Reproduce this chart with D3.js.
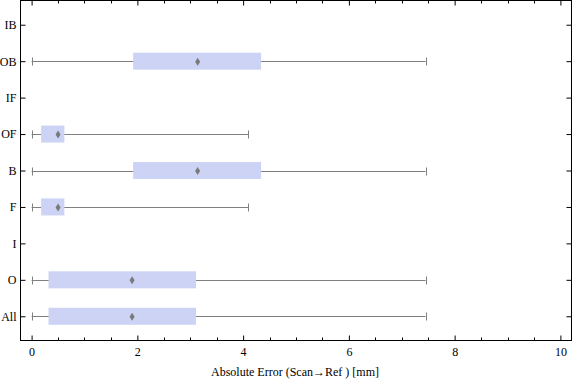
<!DOCTYPE html>
<html>
<head>
<meta charset="utf-8">
<script src="https://cdn.jsdelivr.net/npm/d3@7"></script>
<style>
  html, body { margin: 0; padding: 0; background: #fff; }
  svg { display: block; }
</style>
</head>
<body>
<script>
// ---- data ----
const categories   = ["IB", "OB", "IF", "OF", "B", "F", "I", "O", "All"];
const whiskerLow   = [null, 0,    null, 0,    0,    0,    null, 0,    0];
const boxLow       = [null, 1.92, null, 0.18, 1.92, 0.18, null, 0.32, 0.32];
const boxHigh      = [null, 4.34, null, 0.62, 4.34, 0.62, null, 3.11, 3.11];
const meanValues   = [null, 3.14, null, 0.50, 3.14, 0.50, null, 1.90, 1.90];
const whiskerHigh  = [null, 7.45, null, 4.10, 7.45, 4.10, null, 7.45, 7.45];
const xTickValues  = [0, 2, 4, 6, 8, 10];
const xLabel = "Absolute Error (Scan\u2192Ref ) [mm]";

const FONT = "'Liberation Serif', 'Times New Roman', Times, 'DejaVu Serif', serif";
const W = 576, H = 381;
const L = 20.5, R = 571.5, T = 0.5, B = 340.5;

const svg = d3.select("body").append("svg").attr("width", W).attr("height", H);

const x = d3.scaleLinear().domain([-0.21, 10.21]).range([L, R]);
const y = d3.scalePoint().domain(categories).range([T, B]).padding(0.665);

const rows = categories.map((c, i) => ({
  cat: c, wl: whiskerLow[i], q1: boxLow[i], q3: boxHigh[i], mean: meanValues[i], wh: whiskerHigh[i]
})).filter(d => d.q1 !== null);

const boxH = 17;
const whiskColor = "#808080";

const g = svg.append("g");
// whiskers
g.selectAll("line.wh").data(rows).join("line")
  .attr("x1", d => x(d.wl)).attr("x2", d => x(d.wh))
  .attr("y1", d => Math.round(y(d.cat)) + 0.5).attr("y2", d => Math.round(y(d.cat)) + 0.5)
  .attr("stroke", whiskColor).attr("stroke-width", 1);
// caps
["wl", "wh"].forEach(k => {
  g.selectAll("line.cap" + k).data(rows).join("line")
    .attr("x1", d => Math.round(x(d[k])) + 0.5).attr("x2", d => Math.round(x(d[k])) + 0.5)
    .attr("y1", d => Math.round(y(d.cat)) + 0.5 - 4).attr("y2", d => Math.round(y(d.cat)) + 0.5 + 4)
    .attr("stroke", whiskColor).attr("stroke-width", 1);
});
// boxes
g.selectAll("rect.box").data(rows).join("rect")
  .attr("x", d => x(d.q1)).attr("width", d => x(d.q3) - x(d.q1))
  .attr("y", d => y(d.cat) - boxH / 2).attr("height", boxH)
  .attr("fill", "#ccd3f4");
// mean diamonds
g.selectAll("path.mean").data(rows).join("path")
  .attr("d", d => {
    const cx = x(d.mean), cy = y(d.cat) + 0.5;
    return `M${cx},${cy - 4}L${cx + 2.5},${cy}L${cx},${cy + 4}L${cx - 2.5},${cy}Z`;
  })
  .attr("fill", "#7a7a7a");

// frame
svg.append("rect").attr("x", L).attr("y", T).attr("width", R - L).attr("height", B - T)
  .attr("fill", "none").attr("stroke", "#000").attr("stroke-width", 1);

// x ticks (bottom and top, inward)
const minorTicks = d3.range(0, 10.01, 0.5).filter(v => Math.abs(v % 2) > 1e-6);
const bottomAxis = d3.axisBottom(x).tickValues(xTickValues).tickSizeInner(-5).tickSizeOuter(0).tickPadding(7)
  .tickFormat(d3.format("d"));
const ax = svg.append("g").attr("transform", `translate(0,${B})`).call(bottomAxis);
ax.select(".domain").remove();
ax.selectAll("line").attr("stroke", "#000");
ax.selectAll("text").style("font-size", "12px").style("font-family", FONT).attr("fill", "#000");

svg.append("g").selectAll("line").data(minorTicks).join("line")
  .attr("x1", d => Math.round(x(d)) + 0.5).attr("x2", d => Math.round(x(d)) + 0.5)
  .attr("y1", B).attr("y2", B - 3).attr("stroke", "#000");

const topAxis = d3.axisTop(x).tickValues(xTickValues).tickSizeInner(-5).tickSizeOuter(0).tickFormat("");
const axt = svg.append("g").attr("transform", `translate(0,${T})`).call(topAxis);
axt.select(".domain").remove();
axt.selectAll("line").attr("stroke", "#000");
svg.append("g").selectAll("line").data(minorTicks).join("line")
  .attr("x1", d => Math.round(x(d)) + 0.5).attr("x2", d => Math.round(x(d)) + 0.5)
  .attr("y1", T).attr("y2", T + 3).attr("stroke", "#000");

// y ticks (left with labels, right without)
const leftAxis = d3.axisLeft(y).tickSizeInner(-5).tickSizeOuter(0).tickPadding(4);
const ay = svg.append("g").attr("transform", `translate(${L},0)`).call(leftAxis);
ay.select(".domain").remove();
ay.selectAll("line").attr("stroke", "#000");
ay.selectAll("text").style("font-size", "12px").style("font-family", FONT).attr("fill", "#000");

const rightAxis = d3.axisRight(y).tickSizeInner(-5).tickSizeOuter(0).tickFormat("");
const ayr = svg.append("g").attr("transform", `translate(${R},0)`).call(rightAxis);
ayr.select(".domain").remove();
ayr.selectAll("line").attr("stroke", "#000");

// x label
svg.append("text").attr("x", (L + R) / 2 - 1).attr("y", 376).attr("text-anchor", "middle")
  .style("font-size", "12px").style("font-family", FONT).attr("fill", "#000").text(xLabel);
</script>
</body>
</html>
